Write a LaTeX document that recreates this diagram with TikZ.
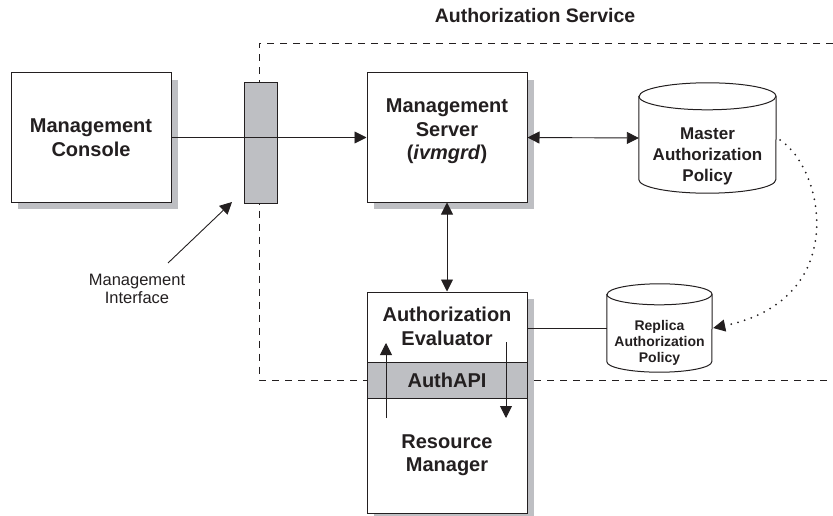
\documentclass[tikz,border=0pt]{standalone}
\usepackage{fontspec}
\setmainfont{Liberation Sans}
\usetikzlibrary{arrows.meta,shadows,calc}
\definecolor{sgray}{RGB}{190,191,195}
\definecolor{ink}{RGB}{35,31,32}
\begin{document}
\begin{tikzpicture}[x=1pt,y=-1pt,
  box/.style={draw=ink, line width=1pt, fill=white, inner sep=0pt,
    drop shadow={shadow xshift=7pt, shadow yshift=-7pt, fill=sgray, opacity=1}},
  graybox/.style={draw=ink, fill=sgray, line width=1pt, inner sep=0pt},
  big/.style={font=\fontsize{20}{23.5}\selectfont\bfseries, align=center, inner sep=0pt, text=ink},
  mid/.style={font=\fontsize{17}{21}\selectfont\bfseries, align=center, inner sep=0pt, text=ink},
  small/.style={font=\fontsize{14}{16}\selectfont\bfseries, align=center, inner sep=0pt, text=ink},
  plain/.style={font=\fontsize{16.5}{18.5}\selectfont, align=center, inner sep=0pt, text=ink},
  conn/.style={draw=ink, line width=0.9pt},
  cyl/.style={draw=ink, line width=1pt, fill=white},
  tip/.style={-{Triangle[length=12pt,width=12pt]}},
  dtip/.style={{Triangle[length=12pt,width=12pt]}-{Triangle[length=12pt,width=12pt]}},
  bound/.style={draw=ink, line width=0.9pt, dash pattern=on 7pt off 6pt}]
\useasboundingbox (0,0) rectangle (833,516);

% service boundary
\draw[bound] (833,43) -- (259.5,43) -- (259.5,380) -- (367,380);
\draw[bound] (534,380) -- (833,380);

\node (title) at (535,16) [font=\fontsize{19.5}{22}\selectfont\bfseries, text=ink, inner sep=0pt] {Authorization Service};

% boxes
\node[box, big, minimum width=160pt, minimum height=129pt] (console) at (91,137.5) {Management\\Console};
\node[box, minimum width=160pt, minimum height=129pt] (server) at (447,137.5) {};
\node[big] (servertext) at (447,131.5) {Management\\Server\\(\textit{ivmgrd})};

\node[graybox, minimum width=33pt, minimum height=120pt] (iface) at (260.5,143) {};

\node[box, minimum width=160pt, minimum height=221pt] (eval) at (447,402.5) {};
\node[graybox, minimum width=160pt, minimum height=36pt] (api) at (447,380) {};
\node[big] (apitext) at (api) {AuthAPI};
\node[big] (evaltext) at (447,326.5) {Authorization\\Evaluator};
\node[big] (rmtext) at (447,455) {Resource\\Manager};

% master cylinder
\node[minimum width=137pt, minimum height=110pt, inner sep=0pt] (master) at (707.5,138) {};
\draw[cyl] ([yshift=-13.5pt]master.north west) -- ([yshift=13.5pt]master.south west)
  arc[start angle=180,end angle=360,x radius=68.5pt,y radius=13.5pt]
  -- ([yshift=-13.5pt]master.north east)
  arc[start angle=0,end angle=180,x radius=68.5pt,y radius=13.5pt] -- cycle;
\draw[cyl, fill=none] ([yshift=-13.5pt]master.north west)
  arc[start angle=180,end angle=360,x radius=68.5pt,y radius=13.5pt];
\node[mid] (mastertext) at (707.5,156) {Master\\Authorization\\Policy};

% replica cylinder
\node[minimum width=105pt, minimum height=88pt, inner sep=0pt] (replica) at (659.5,328) {};
\draw[cyl] ([yshift=-10.5pt]replica.north west) -- ([yshift=10.5pt]replica.south west)
  arc[start angle=180,end angle=360,x radius=52.5pt,y radius=10.5pt]
  -- ([yshift=-10.5pt]replica.north east)
  arc[start angle=0,end angle=180,x radius=52.5pt,y radius=10.5pt] -- cycle;
\draw[cyl, fill=none] ([yshift=-10.5pt]replica.north west)
  arc[start angle=180,end angle=360,x radius=52.5pt,y radius=10.5pt];
\node[small] (replicatext) at (659.5,343) {Replica\\Authorization\\Policy};

% label
\node[plain] (mi) at (137,289) {Management\\Interface};

% connectors
\draw[conn, tip] (console.east) -- (server.west);
\draw[conn, dtip] (server.east) -- (master.west);
\draw[conn, dtip] (server.south) -- (eval.north);
\draw[conn] (eval.east |- replica.west) -- (replica.west);

\coordinate (upa) at (386,418);
\coordinate (upb) at (386,343);
\coordinate (dna) at (506,342);
\coordinate (dnb) at (506,418);
\draw[conn, tip] (upa) -- (upb);
\draw[conn, tip] (dna) -- (dnb);

\coordinate (mia) at (168,263);
\coordinate (mib) at (232,202);
\draw[conn, tip] (mia) -- (mib);

\draw[draw=ink, line width=2pt, line cap=round, dash pattern=on 0pt off 7pt,
  -{Triangle[length=12pt,width=12pt,line width=0.9pt]}]
  ([xshift=4pt,yshift=-2pt]master.east) .. controls (825,170) and (850,300) .. ([xshift=1pt]replica.east);
\end{tikzpicture}
\end{document}
